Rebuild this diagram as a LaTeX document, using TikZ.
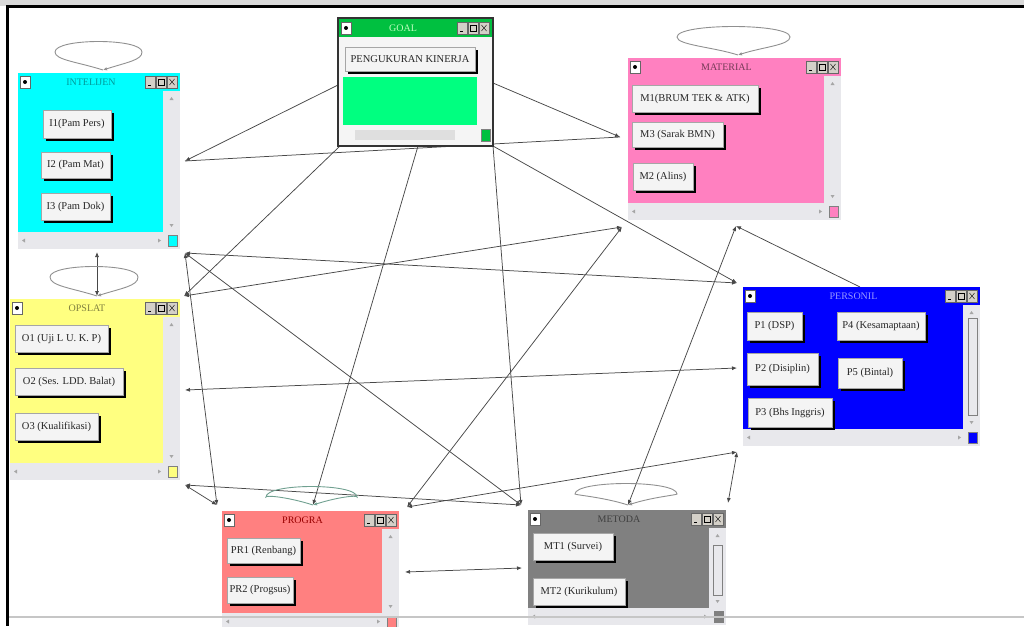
\documentclass[tikz,border=0pt]{standalone}
\usepackage{fontspec}
\setmainfont{Liberation Serif}
\usetikzlibrary{arrows.meta}
\definecolor{cyn}{HTML}{00FFFF}
\definecolor{pnk}{HTML}{FF80C0}
\definecolor{ylw}{HTML}{FFFF80}
\definecolor{blu}{HTML}{0000FF}
\definecolor{slm}{HTML}{FF8080}
\definecolor{gry}{HTML}{808080}
\definecolor{grnt}{HTML}{00C040}
\definecolor{grnb}{HTML}{00FF80}
\definecolor{scrollc}{HTML}{E8E8EC}
\definecolor{facec}{HTML}{F4F4F4}
\definecolor{edgec}{HTML}{484848}
\definecolor{loopc}{HTML}{909090}
\definecolor{loopg}{HTML}{70A090}
\definecolor{tbtn}{HTML}{D4D0C8}
\newcommand\wnd[8]{%
  \node[frame, anchor=north west, minimum width={(#4-#2)*1pt}, minimum height={(#5+17-#3)*1pt}] (#1) at (#2,#3) {};
  \fill[#6] (#2,#3) rectangle (#4,{#3+18});
  \fill[#6] (#2,{#3+18}) rectangle ({#4-17},#5);
  \filldraw[fill=#6,draw=gray] ({#4-12},{#5+3}) rectangle ({#4-3},{#5+14});
  \node[ttl,text=#7] at ({(#2+#4)/2-8},{#3+9.5}) {#8};
  \draw[fill=white,draw=black!60] ({#2+2},{#3+3}) rectangle ({#2+12},{#3+15});
  \fill ({#2+7},{#3+9}) circle (2);
  \foreach \o in {35,24,13}{\draw[fill=tbtn,draw=black!60] ({#4-\o},{#3+3}) rectangle ({#4-\o+10},{#3+15});}
  \draw[line width=1pt] ({#4-32},{#3+12.5}) -- ({#4-29},{#3+12.5});
  \draw ({#4-22},{#3+6}) rectangle ({#4-16},{#3+12});
  \draw ({#4-10.5},{#3+6}) -- ({#4-5.5},{#3+12}) ({#4-10.5},{#3+12}) -- ({#4-5.5},{#3+6});
  \fill[gray!70] ({#4-10.5},{#3+27}) -- ({#4-6.5},{#3+27}) -- ({#4-8.5},{#3+24}) -- cycle;
  \fill[gray!70] ({#4-10.5},{#5-8}) -- ({#4-6.5},{#5-8}) -- ({#4-8.5},{#5-5}) -- cycle;
  \fill[gray!70] ({#2+4},{#5+8.5}) -- ({#2+7},{#5+6.5}) -- ({#2+7},{#5+10.5}) -- cycle;
  \fill[gray!70] ({#4-19},{#5+8.5}) -- ({#4-22},{#5+6.5}) -- ({#4-22},{#5+10.5}) -- cycle;
}
\newcommand\btn[6]{%
  \fill[black] ({#2+3},{#3+3}) rectangle ({#4+3},{#5+3});
  \node[btnface, minimum width={(#4-#2)*1pt}, minimum height={(#5-#3)*1pt}] (#1) at ({(#2+#4)/2},{(#3+#5)/2}) {#6};
}
\newcommand\slp[7]{%
  \draw[loopline,#7] (#1) .. controls ({#2-25},{#3-8}) and ({#4},{#3-10}) .. ({#4},{#6+9}) .. controls ({#4},{#6-5}) and ({#5},{#6-5}) .. ({#5},{#6+9}) .. controls ({#5},{#3-10}) and ({#2+25},{#3-8}) .. (#1);
}
\begin{document}
\begin{tikzpicture}[x=1pt,y=-1pt,
  >={Latex[length=5pt,width=4pt]},
  edge/.style={draw=edgec, line width=0.75pt},
  loopline/.style={draw=loopc, line width=0.9pt, -{Latex[length=4pt,width=3.5pt]}},
  frame/.style={rectangle, fill=scrollc, draw=none, inner sep=0pt, outer sep=0pt},
  btnface/.style={rectangle, fill=facec, draw=gray!70, inner sep=0pt, text=black!85, font=\fontsize{10.5}{11}\selectfont},
  ttl/.style={inner sep=0pt, font=\fontsize{10}{11}\selectfont}]
\useasboundingbox (0,0) rectangle (1024,626);
\begin{scope}
\clip (0,0) rectangle (1024,626);
% screen chrome
\fill[gray!30] (0,0) rectangle (1024,6);
% ports
\coordinate (iA) at (185,161);
\coordinate (iB) at (185,253);
\coordinate (iC) at (97,252);
\coordinate (iT) at (103,70);
\coordinate (gL) at (338,85);
\coordinate (gTR) at (493,83);
\coordinate (gBL) at (340,146);
\coordinate (gB) at (418,146);
\coordinate (gBR) at (493,146);
\coordinate (mA) at (620,137);
\coordinate (mB) at (622,227);
\coordinate (mC) at (736,226);
\coordinate (mT) at (738,55);
\coordinate (oA) at (184,296);
\coordinate (oB) at (185,390);
\coordinate (oC) at (185,485);
\coordinate (oT) at (97,296);
\coordinate (pA) at (737,283);
\coordinate (pB) at (737,368);
\coordinate (pC) at (737,452);
\coordinate (pT) at (860,287);
\coordinate (rA) at (217,505);
\coordinate (rB) at (313,505);
\coordinate (rC) at (407,507);
\coordinate (rR) at (405,572);
\coordinate (eA) at (521,505);
\coordinate (eB) at (628,505);
\coordinate (eC) at (728,503);
\coordinate (eL) at (522,568);
% connectors
\draw[edge] (iA) -- (mA);
\draw[edge,->] (gL) -- (iA);
\draw[edge,->] (gTR) -- (mA);
\draw[edge,->] (gBL) -- (oA);
\draw[edge,->] (gB) -- (rB);
\draw[edge,->] (gBR) -- (eA);
\draw[edge,->] (gBR) -- (pA);
\draw[edge,<->] (iB) -- (pA);
\draw[edge,<->] (iB) -- (eA);
\draw[edge,<->] (iB) -- (rA);
\draw[edge,<->] (oA) -- (mB);
\draw[edge,<->] (oB) -- (pB);
\draw[edge,<->] (oC) -- (rA);
\draw[edge,<->] (oC) -- (eA);
\draw[edge,<->] (rC) -- (mB);
\draw[edge,<->] (rC) -- (pC);
\draw[edge,<->] (pC) -- (eC);
\draw[edge,<->] (eB) -- (mC);
\draw[edge,->] (pT) -- (mC);
\draw[edge,<->] (rR) -- (eL);
\draw[edge,<->] (iC) -- (oT);
% self loops
\slp{iT}{103}{70}{55}{142}{43}{}
\slp{mT}{738}{55}{677}{790}{28}{}
\slp{oT}{97}{296}{50}{138}{268}{}
\slp{rB}{313}{505}{266}{357}{488}{draw=loopg}
\slp{eB}{628}{505}{575}{677}{485}{}
% windows
\wnd{intel}{18}{73}{180}{232}{cyn}{cyn!60!black}{INTELIJEN}
\btn{i1}{43}{110}{111}{138}{I1(Pam Pers)}
\btn{i2}{41}{152}{110}{178}{I2 (Pam Mat)}
\btn{i3}{41}{193}{110}{220}{I3 (Pam Dok)}
\wnd{mat}{628}{58}{841}{203}{pnk}{pnk!45!black}{MATERIAL}
\btn{m1}{632}{85}{758}{112}{M1(BRUM TEK \& ATK)}
\btn{m3}{632}{122}{723}{147}{M3 (Sarak BMN)}
\btn{m2}{633}{163}{693}{190}{M2 (Alins)}
\wnd{ops}{10}{299}{180}{463}{ylw}{ylw!50!black}{OPSLAT}
\btn{o1}{15}{325}{108}{352}{O1 (Uji L U. K. P)}
\btn{o2}{15}{368}{123}{395}{O2 (Ses. LDD. Balat)}
\btn{o3}{15}{413}{98}{440}{O3 (Kualifikasi)}
\wnd{pers}{743}{287}{980}{429}{blu}{blu!40!white}{PERSONIL}
\draw[gray] (968,318) rectangle (977,415);
\btn{p1}{747}{312}{802}{340}{P1 (DSP)}
\btn{p4}{837}{312}{925}{340}{P4 (Kesamaptaan)}
\btn{p2}{747}{353}{818}{385}{P2 (Disiplin)}
\btn{p5}{838}{358}{902}{388}{P5 (Bintal)}
\btn{p3}{748}{398}{832}{427}{P3 (Bhs Inggris)}
\wnd{prog}{222}{511}{399}{613}{slm}{red!60!black}{PROGRA}
\btn{r1}{227}{538}{300}{563}{PR1 (Renbang)}
\btn{r2}{227}{577}{293}{603}{PR2 (Progsus)}
\wnd{met}{528}{510}{726}{608}{gry}{black!75}{METODA}
\draw[gray] (713,545) rectangle (722,595);
\btn{t1}{533}{533}{613}{560}{MT1 (Survei)}
\btn{t2}{533}{578}{625}{605}{MT2 (Kurikulum)}
% goal window
\node[frame, fill=white!92!gray, draw=black!80, line width=1.6pt, anchor=north west, minimum width=155pt, minimum height=128pt] (goal) at (338,18) {};
\fill[grnt] (339,19) rectangle (492,37);
\node[ttl, text=green!25!white] at (403,28) {GOAL};
\draw[fill=white,draw=black!60] (341,22) rectangle (351,34);
\fill (346,28) circle (2);
\foreach \o in {35,24,13}{\draw[fill=tbtn,draw=black!60] ({492-\o},22) rectangle ({492-\o+10},34);}
\draw[line width=1pt] (460,31.5) -- (463,31.5);
\draw (470,25) rectangle (476,31);
\draw (481.5,25) -- (486.5,31) (481.5,31) -- (486.5,25);
\btn{gk}{345}{47}{475}{71}{PENGUKURAN KINERJA}
\fill[grnb] (343,77) rectangle (477,125);
\fill[gray!25] (355,130) rectangle (455,140);
\filldraw[fill=grnt,draw=gray] (481,129) rectangle (490,141);
% bottom rule and left/top border
\draw[gray!45, line width=2pt] (8,617) -- (1024,617);
\fill[black] (6,5) rectangle (1024,8);
\fill[black] (6,5) rectangle (9,626);
\end{scope}
\end{tikzpicture}
\end{document}
